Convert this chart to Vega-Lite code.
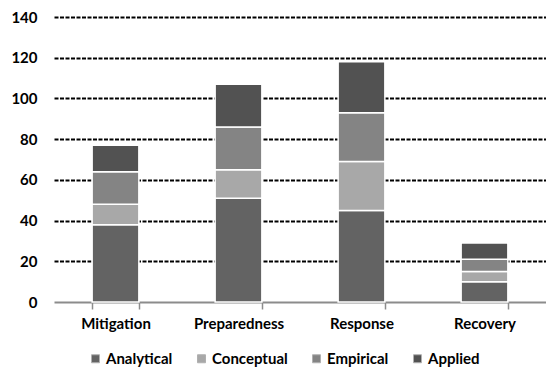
{
  "$schema": "https://vega.github.io/schema/vega-lite/v6.json",
  "width": 492,
  "height": 285,
  "autosize": {"type": "none"},
  "padding": {"left": 54, "top": 17, "right": 0, "bottom": 65},
  "background": "white",
  "config": {
    "view": {"stroke": null},
    "font": "Lato",
    "axis": {"labelFont": "Lato", "labelFontWeight": "bold", "labelColor": "black", "labelFontSize": 15}
  },
  "data": {
    "values": [
      {"phase": "Mitigation", "type": "Analytical", "count": 38},
      {"phase": "Mitigation", "type": "Conceptual", "count": 10},
      {"phase": "Mitigation", "type": "Empirical", "count": 16},
      {"phase": "Mitigation", "type": "Applied", "count": 13},
      {"phase": "Preparedness", "type": "Analytical", "count": 51},
      {"phase": "Preparedness", "type": "Conceptual", "count": 14},
      {"phase": "Preparedness", "type": "Empirical", "count": 21},
      {"phase": "Preparedness", "type": "Applied", "count": 21},
      {"phase": "Response", "type": "Analytical", "count": 45},
      {"phase": "Response", "type": "Conceptual", "count": 24},
      {"phase": "Response", "type": "Empirical", "count": 24},
      {"phase": "Response", "type": "Applied", "count": 25},
      {"phase": "Recovery", "type": "Analytical", "count": 10},
      {"phase": "Recovery", "type": "Conceptual", "count": 5},
      {"phase": "Recovery", "type": "Empirical", "count": 6},
      {"phase": "Recovery", "type": "Applied", "count": 8}
    ]
  },
  "transform": [
    {"calculate": "indexof(['Analytical', 'Conceptual', 'Empirical', 'Applied'], datum.type)", "as": "stackRank"}
  ],
  "mark": {"type": "bar", "stroke": "white", "strokeWidth": 1.5},
  "encoding": {
    "x": {
      "field": "phase",
      "type": "nominal",
      "sort": ["Mitigation", "Preparedness", "Response", "Recovery"],
      "scale": {"paddingInner": 0.62, "paddingOuter": 0.31},
      "axis": {
        "title": null,
        "labelAngle": 0,
        "tickBand": "extent",
        "domainColor": "#8c8c8c",
        "domainWidth": 2,
        "tickColor": "#8c8c8c",
        "tickWidth": 1.5,
        "tickSize": 7,
        "labelPadding": 7
      }
    },
    "y": {
      "field": "count",
      "type": "quantitative",
      "stack": "zero",
      "scale": {"domain": [0, 140]},
      "axis": {
        "title": null,
        "values": [0, 20, 40, 60, 80, 100, 120, 140],
        "domain": false,
        "ticks": false,
        "labelPadding": 17,
        "gridColor": {"condition": {"test": "datum.value === 0", "value": "transparent"}, "value": "black"},
        "gridWidth": 2,
        "gridDash": [4, 1.5]
      }
    },
    "order": {"field": "stackRank", "type": "quantitative", "sort": "ascending"},
    "color": {
      "field": "type",
      "type": "nominal",
      "sort": ["Analytical", "Conceptual", "Empirical", "Applied"],
      "scale": {
        "domain": ["Analytical", "Conceptual", "Empirical", "Applied"],
        "range": ["#636363", "#a8a8a8", "#848484", "#525252"]
      },
      "legend": {
        "title": null,
        "orient": "none",
        "direction": "horizontal",
        "legendX": 34,
        "legendY": 334,
        "symbolType": "square",
        "symbolSize": 64,
        "symbolStrokeColor": "#b0b0b0",
        "symbolStrokeWidth": 1,
        "labelFont": "Lato",
        "labelFontWeight": "bold",
        "labelFontSize": 15,
        "labelColor": "black",
        "labelOffset": 3,
        "columnPadding": 21
      }
    }
  }
}
